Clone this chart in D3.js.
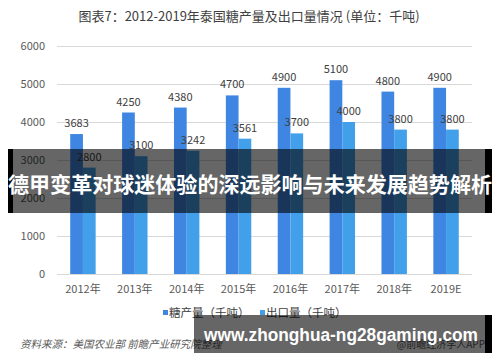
<!DOCTYPE html>
<meta charset="utf-8">
<script src="https://d3js.org/d3.v7.min.js"></script>
<style>
body { margin: 0; background: #fff; }
text { font-family: "Noto Sans CJK SC", "Liberation Sans", sans-serif; }
.axis text { fill: #595959; font-size: 11px; }
.grid line { stroke: #d9d9d9; stroke-width: 1px; }
</style>
<body>
<script>
var years = ['2012年', '2013年', '2014年', '2015年', '2016年', '2017年', '2018年', '2019E'];
var series = ['糖产量（千吨）', '出口量（千吨）'];
var production = [3683, 4250, 4380, 4700, 4900, 5100, 4800, 4900];
var exports = [2800, 3100, 3242, 3561, 3700, 4000, 3800, 3800];
var yTicks = [0, 1000, 2000, 3000, 4000, 5000, 6000];
var colors = ['#3f86e2', '#42a0ea'];

var W = 500, H = 362;
var svg = d3.select('body').append('svg')
    .attr('width', W)
    .attr('height', H);

// title
svg.append('text')
    .text('图表7：2012-2019年泰国糖产量及出口量情况 (单位：千吨)')
    .attr('x', 249)
    .attr('y', 21)
    .attr('text-anchor', 'middle')
    .style('font-size', '13px')
    .style('fill', '#404040');

var x0 = d3.scaleBand()
    .domain(years)
    .range([57, 472])
    .paddingInner(0.51)
    .paddingOuter(0.255);

var x1 = d3.scaleBand()
    .domain([0, 1])
    .range([0, x0.bandwidth()]);

var y = d3.scaleLinear()
    .domain([0, 6000])
    .range([274, 46]);

// gridlines
svg.append('g')
    .attr('class', 'grid')
    .selectAll('line')
    .data(yTicks)
    .enter()
    .append('line')
    .attr('x1', 57)
    .attr('x2', 472)
    .attr('y1', function(d) { return Math.round(y(d)) + 0.5; })
    .attr('y2', function(d) { return Math.round(y(d)) + 0.5; });

// y axis labels
svg.append('g')
    .attr('class', 'axis')
    .selectAll('text')
    .data(yTicks)
    .enter()
    .append('text')
    .attr('x', 45)
    .attr('y', function(d) { return y(d) + 4; })
    .attr('text-anchor', 'end')
    .text(function(d) { return d; });

// x axis labels
svg.append('g')
    .attr('class', 'axis')
    .selectAll('text')
    .data(years)
    .enter()
    .append('text')
    .attr('x', function(d) { return x0(d) + x0.bandwidth() / 2; })
    .attr('y', 293)
    .attr('text-anchor', 'middle')
    .text(function(d) { return d; });

// bars + value labels
var data = [production, exports];
data.forEach(function(vals, s) {
    var g = svg.append('g');
    g.selectAll('rect')
        .data(vals)
        .enter()
        .append('rect')
        .attr('x', function(d, i) { return x0(years[i]) + x1(s); })
        .attr('y', function(d) { return y(d); })
        .attr('width', x1.bandwidth())
        .attr('height', function(d) { return y(0) - y(d); })
        .style('fill', colors[s]);

    g.selectAll('text')
        .data(vals)
        .enter()
        .append('text')
        .attr('x', function(d, i) { return x0(years[i]) + x1(s) + x1.bandwidth() / 2; })
        .attr('y', function(d) { return y(d) - 7; })
        .attr('text-anchor', 'middle')
        .style('font-size', '11px')
        .style('fill', '#404040')
        .text(function(d) { return d; });
});

// legend
var legend = svg.append('g');
var legendX = [163, 260];
series.forEach(function(name, i) {
    legend.append('rect')
        .attr('x', legendX[i])
        .attr('y', 310)
        .attr('width', 5)
        .attr('height', 5)
        .style('fill', colors[i]);
    legend.append('text')
        .attr('x', legendX[i] + 6)
        .attr('y', 317)
        .style('font-size', '11.5px')
        .style('fill', '#404040')
        .text(name);
});

// source
svg.append('text')
    .text('资料来源：美国农业部 前瞻产业研究院整理')
    .attr('x', 20)
    .attr('y', 348)
    .style('font-size', '10.5px')
    .style('font-style', 'italic')
    .style('fill', '#595959');

svg.append('text')
    .text('@前瞻经济学人APP')
    .attr('x', 485)
    .attr('y', 348)
    .attr('text-anchor', 'end')
    .style('font-size', '10px')
    .style('fill', '#595959');

// overlay banner across the chart
var banner = svg.append('g');
banner.append('rect').attr('x', 8).attr('y', 149).attr('width', 5).attr('height', 64).style('fill', '#000');
banner.append('rect').attr('x', 485).attr('y', 149).attr('width', 7).attr('height', 64).style('fill', '#000');
banner.append('rect').attr('x', 13).attr('y', 149).attr('width', 472).attr('height', 64).style('fill', 'rgba(0,0,0,0.6)');
banner.append('text')
    .text('德甲变革对球迷体验的深远影响与未来发展趋势解析')
    .attr('x', 250)
    .attr('y', 192)
    .attr('text-anchor', 'middle')
    .attr('textLength', 484)
    .attr('lengthAdjust', 'spacingAndGlyphs')
    .style('font-size', '21px')
    .style('font-weight', 'bold')
    .style('fill', '#fff');

// bottom banner
var foot = svg.append('g');
foot.append('rect').attr('x', 485).attr('y', 315).attr('width', 7).attr('height', 38).style('fill', '#000');
foot.append('rect').attr('x', 194).attr('y', 315).attr('width', 291).attr('height', 38).style('fill', 'rgba(0,0,0,0.6)');
foot.append('text')
    .text('www.zhonghua-ng28gaming.com')
    .attr('x', 204)
    .attr('y', 341)
    .attr('textLength', 274)
    .attr('lengthAdjust', 'spacingAndGlyphs')
    .style('font-family', '"Liberation Sans", sans-serif')
    .style('font-size', '18px')
    .style('font-weight', 'bold')
    .style('fill', '#fff');
</script>
</body>
</html>
